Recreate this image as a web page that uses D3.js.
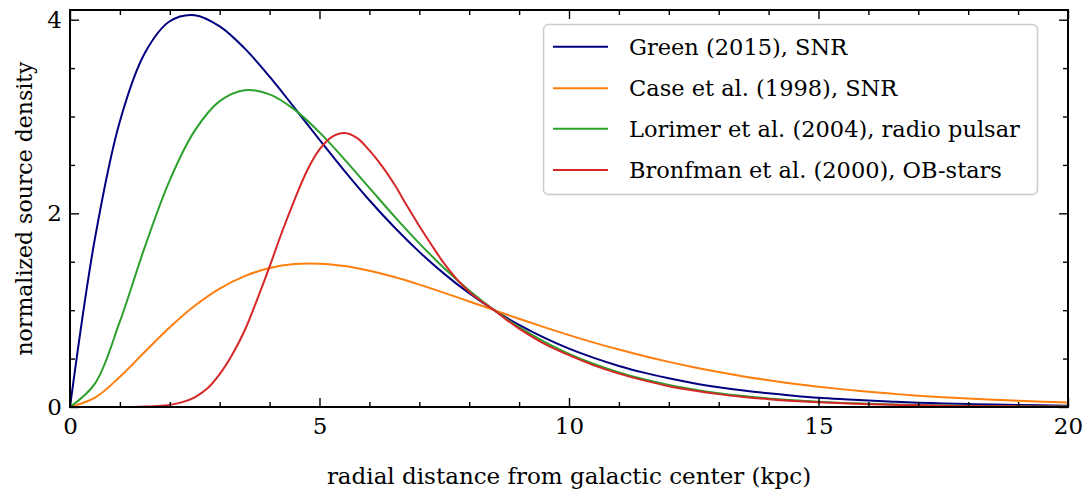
<!DOCTYPE html>
<html>
<head>
<meta charset="utf-8">
<script src="https://cdn.jsdelivr.net/npm/d3@7"></script>
<style>
  html, body { margin: 0; padding: 0; background: #fff; }
  svg { display: block; }
  text { font-family: "DejaVu Serif", serif; fill: #000; }
</style>
</head>
<body>
<svg id="chart" width="1088" height="491"></svg>
<script>
// Galactocentric radius samples (kpc)
const radius = [0, 0.5, 1, 1.5, 2, 2.5, 3, 3.5, 4, 4.5, 5, 5.5, 6, 6.5, 7, 7.5, 8, 8.5, 9, 9.5,
  10, 10.5, 11, 11.5, 12, 12.5, 13, 13.5, 14, 14.5, 15, 15.5, 16, 16.5, 17, 17.5, 18, 18.5, 19, 19.5, 20];

// Normalized source densities (unity at the solar circle)
const greenSNR = [0, 1.741, 2.951, 3.656, 3.984, 4.047, 3.931, 3.704, 3.412, 3.089, 2.760, 2.439, 2.135,
  1.856, 1.602, 1.375, 1.175, 1.000, 0.848, 0.716, 0.603, 0.507, 0.424, 0.355, 0.296, 0.246, 0.205,
  0.170, 0.141, 0.117, 0.096, 0.080, 0.066, 0.054, 0.044, 0.037, 0.030, 0.025, 0.020, 0.017, 0.014];
const caseSNR = [0, 0.096, 0.312, 0.570, 0.823, 1.045, 1.223, 1.352, 1.435, 1.476, 1.480, 1.455, 1.407,
  1.342, 1.264, 1.179, 1.090, 1.000, 0.911, 0.825, 0.742, 0.665, 0.593, 0.527, 0.466, 0.411, 0.361,
  0.316, 0.276, 0.241, 0.210, 0.182, 0.157, 0.136, 0.117, 0.101, 0.087, 0.075, 0.064, 0.055, 0.047];
const lorimerPSR = [0, 0.241, 0.884, 1.653, 2.343, 2.854, 3.159, 3.272, 3.229, 3.071, 2.836, 2.558, 2.263,
  1.969, 1.690, 1.433, 1.203, 1.000, 0.825, 0.675, 0.549, 0.444, 0.357, 0.286, 0.228, 0.181, 0.143,
  0.113, 0.089, 0.069, 0.054, 0.042, 0.033, 0.025, 0.020, 0.015, 0.012, 0.009, 0.007, 0.005, 0.004];

// The OB-star profile is sampled more finely across its narrow peak
const bronfmanRadius = [0, 0.5, 1, 1.25, 1.5, 1.75, 2, 2.25, 2.5, 2.75, 3, 3.25, 3.5, 3.75, 4, 4.25,
  4.5, 4.75, 5, 5.25, 5.5, 5.75, 6, 6.25, 6.5, 6.75, 7, 7.25, 7.5, 7.75, 8, 8.25, 8.5, 8.75, 9,
  9.5, 10, 10.5, 11, 11.5, 12, 12.5, 13, 13.5, 14, 14.5, 15, 15.5, 16, 16.5, 17, 17.5, 18, 18.5, 19, 19.5, 20];
const bronfmanOB = [0, 0, 0, 0.001, 0.004, 0.010, 0.022, 0.050, 0.100, 0.190, 0.340, 0.540, 0.790, 1.110,
  1.450, 1.810, 2.140, 2.440, 2.660, 2.790, 2.830, 2.780, 2.650, 2.490, 2.300, 2.080, 1.870, 1.670,
  1.480, 1.320, 1.190, 1.090, 1.000, 0.900, 0.810,
  0.655, 0.535, 0.430, 0.345, 0.275, 0.215, 0.170, 0.133, 0.104, 0.081, 0.063, 0.049, 0.038, 0.029,
  0.022, 0.017, 0.013, 0.010, 0.008, 0.006, 0.0045, 0.0035];

const seriesNames = ["Green (2015), SNR", "Case et al. (1998), SNR",
  "Lorimer et al. (2004), radio pulsar", "Bronfman et al. (2000), OB-stars"];
const seriesColors = ["#000080", "#ff7f0e", "#2ca02c", "#d62728"];
const seriesRadius = [radius, radius, radius, bronfmanRadius];
const seriesValues = [greenSNR, caseSNR, lorimerPSR, bronfmanOB];

const xMajorTicks = [0, 5, 10, 15, 20];
const xMinorTicks = [1, 2, 3, 4, 6, 7, 8, 9, 11, 12, 13, 14, 16, 17, 18, 19];
const yMajorTicks = [0, 2, 4];
const yMinorTicks = [0.5, 1, 1.5, 2.5, 3, 3.5];

const xLabel = "radial distance from galactic center (kpc)";
const yLabel = "normalized source density";

const svg = d3.select("#chart");
const plotLeft = 70, plotRight = 1068, plotTop = 10, plotBottom = 407;

const x = d3.scaleLinear().domain([0, 20]).range([plotLeft, plotRight]);
const y = d3.scaleLinear().domain([0, 4.1]).range([plotBottom, plotTop]);

svg.append("defs").append("clipPath").attr("id", "plot-clip")
  .append("rect").attr("x", plotLeft).attr("y", plotTop)
  .attr("width", plotRight - plotLeft).attr("height", plotBottom - plotTop);

// Curves
const curves = svg.append("g").attr("clip-path", "url(#plot-clip)");
seriesValues.forEach((vals, k) => {
  const rs = seriesRadius[k];
  const line = d3.line()
    .x((d, i) => x(rs[i]))
    .y(d => y(d))
    .curve(d3.curveCatmullRom.alpha(0.5));
  curves.append("path")
    .attr("d", line(vals))
    .attr("fill", "none")
    .attr("stroke", seriesColors[k])
    .attr("stroke-width", 2)
    .attr("stroke-linejoin", "round");
});

// Axes with inward-pointing ticks on all four sides
const tickFont = 23;
function styleAxis(g) {
  g.select(".domain").remove();
  g.selectAll(".tick line").attr("stroke", "#000").attr("stroke-width", 1.4);
  g.selectAll(".tick text").attr("font-size", tickFont)
    .style("font-family", "'DejaVu Serif', serif").attr("fill", "#000");
}
const major = 9, minor = 5;

svg.append("g").attr("transform", `translate(0,${plotBottom})`)
  .call(d3.axisBottom(x).tickValues(xMajorTicks).tickFormat(d3.format("d")).tickSize(-major).tickPadding(11))
  .call(styleAxis);
svg.append("g").attr("transform", `translate(0,${plotBottom})`)
  .call(d3.axisBottom(x).tickValues(xMinorTicks).tickFormat("").tickSize(-minor))
  .call(styleAxis);
svg.append("g").attr("transform", `translate(0,${plotTop})`)
  .call(d3.axisTop(x).tickValues(xMajorTicks).tickFormat("").tickSize(-major))
  .call(styleAxis);
svg.append("g").attr("transform", `translate(0,${plotTop})`)
  .call(d3.axisTop(x).tickValues(xMinorTicks).tickFormat("").tickSize(-minor))
  .call(styleAxis);

svg.append("g").attr("transform", `translate(${plotLeft},0)`)
  .call(d3.axisLeft(y).tickValues(yMajorTicks).tickFormat(d3.format("d")).tickSize(-major).tickPadding(8))
  .call(styleAxis);
svg.append("g").attr("transform", `translate(${plotLeft},0)`)
  .call(d3.axisLeft(y).tickValues(yMinorTicks).tickFormat("").tickSize(-minor))
  .call(styleAxis);
svg.append("g").attr("transform", `translate(${plotRight},0)`)
  .call(d3.axisRight(y).tickValues(yMajorTicks).tickFormat("").tickSize(-major))
  .call(styleAxis);
svg.append("g").attr("transform", `translate(${plotRight},0)`)
  .call(d3.axisRight(y).tickValues(yMinorTicks).tickFormat("").tickSize(-minor))
  .call(styleAxis);

// Frame
svg.append("rect")
  .attr("x", plotLeft).attr("y", plotTop)
  .attr("width", plotRight - plotLeft).attr("height", plotBottom - plotTop)
  .attr("fill", "none").attr("stroke", "#000").attr("stroke-width", 2);

// Axis titles
svg.append("text")
  .attr("x", (plotLeft + plotRight) / 2).attr("y", 484)
  .attr("text-anchor", "middle").attr("font-size", 23)
  .text(xLabel);
svg.append("text")
  .attr("transform", `translate(32,${(plotTop + plotBottom) / 2}) rotate(-90)`)
  .attr("text-anchor", "middle").attr("font-size", 22)
  .text(yLabel);

// Legend
const legend = svg.append("g");
legend.append("rect")
  .attr("x", 543.5).attr("y", 24.5).attr("width", 494).attr("height", 170)
  .attr("rx", 5).attr("fill", "#fff").attr("fill-opacity", 0.8)
  .attr("stroke", "#cccccc").attr("stroke-width", 1.5);
const rowY = [46.7, 88.3, 128.8, 170];
seriesNames.forEach((name, k) => {
  legend.append("line")
    .attr("x1", 553).attr("x2", 608)
    .attr("y1", rowY[k]).attr("y2", rowY[k])
    .attr("stroke", seriesColors[k]).attr("stroke-width", 2);
  legend.append("text")
    .attr("x", 629).attr("y", rowY[k]).attr("dy", "0.36em")
    .attr("font-size", 22.5)
    .text(name);
});
</script>
</body>
</html>
